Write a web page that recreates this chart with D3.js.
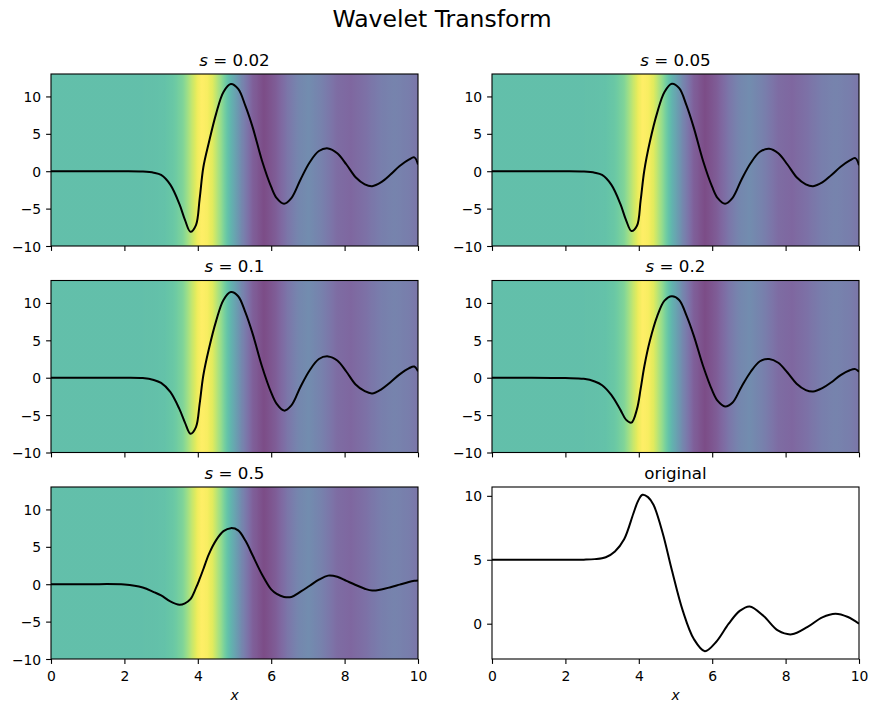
<!DOCTYPE html>
<html>
<head>
<meta charset="utf-8">
<script src="https://cdn.jsdelivr.net/npm/d3@7"></script>
<style>
  body { margin: 0; background: #fff; }
  svg { display: block; }
  text { font-family: 'DejaVu Sans', sans-serif; fill: #000; }
</style>
</head>
<body>
<svg id="chart" width="870" height="704"></svg>
<script>
// Values.
const scaleLabels = ['0.02', '0.05', '0.1', '0.2', '0.5'];

// sample positions shared by the five wavelet curves
const waveX = [0, 1, 2, 2.5, 2.8, 3, 3.25, 3.5, 3.65, 3.8, 3.95, 4.05, 4.15, 4.3, 4.5,
  4.7, 4.9, 5.1, 5.3, 5.5, 5.75, 6, 6.15, 6.35, 6.55, 6.8, 7.05, 7.3, 7.55, 7.8,
  8.05, 8.3, 8.55, 8.75, 9, 9.25, 9.5, 9.75, 9.9, 10];

const waveS002 = [0, 0, 0, -0.05, -0.2, -0.5, -1.8, -4.4, -6.5, -8.1, -7.2, -3.7, 0.5, 3.8, 7.7,
  10.6, 11.65, 11.0, 8.7, 5.8, 1.4, -2.1, -3.6, -4.35, -3.6, -1.1, 1.2, 2.7, 3.05, 2.4,
  0.9, -0.8, -1.75, -2.0, -1.45, -0.45, 0.7, 1.55, 1.85, 0.9];

const waveS005 = [0, 0, 0, -0.05, -0.2, -0.5, -1.8, -4.4, -6.5, -8.0, -7.3, -3.9, 0.1, 3.9, 7.8,
  10.6, 11.7, 11.1, 8.8, 5.8, 1.4, -2.1, -3.6, -4.35, -3.6, -1.1, 1.1, 2.6, 3.0, 2.4,
  0.9, -0.8, -1.75, -2.0, -1.5, -0.5, 0.6, 1.45, 1.75, 0.8];

const waveS01 = [0, 0, 0, -0.05, -0.3, -0.7, -1.9, -4.2, -6.0, -7.5, -6.6, -3.5, 0.3, 3.8, 7.6,
  10.4, 11.45, 10.9, 8.7, 5.8, 1.5, -2.0, -3.5, -4.4, -3.7, -1.2, 1.0, 2.5, 2.85, 2.3,
  0.8, -0.9, -1.8, -2.1, -1.55, -0.6, 0.45, 1.25, 1.5, 0.85];

const waveS02 = [0, 0, -0.05, -0.15, -0.5, -1.0, -2.3, -4.3, -5.6, -6.0, -4.2, -1.5, 1.5, 4.9, 8.2,
  10.3, 10.9, 10.4, 8.3, 5.6, 1.6, -1.7, -3.1, -3.85, -3.35, -1.2, 0.8, 2.2, 2.5, 2.0,
  0.7, -0.8, -1.65, -1.85, -1.4, -0.6, 0.35, 1.0, 1.15, 0.8];

const waveS05 = [0, 0, -0.05, -0.45, -1.05, -1.5, -2.3, -2.75, -2.55, -2.0, -0.5, 0.7, 2.0, 4.0, 5.9,
  7.1, 7.5, 7.2, 5.8, 3.8, 1.3, -0.7, -1.3, -1.7, -1.7, -1.0, -0.2, 0.6, 1.15, 1.0,
  0.45, -0.1, -0.6, -0.85, -0.7, -0.4, -0.05, 0.3, 0.45, 0.5];

// the original signal, also used to colour the panel backgrounds
const origX = [0, 1, 2, 2.5, 2.8, 3.1, 3.35, 3.6, 3.85, 3.98, 4.1, 4.25, 4.4, 4.65, 4.9,
  5.2, 5.5, 5.8, 6.1, 6.45, 6.75, 7.02, 7.4, 7.8, 8.17, 8.6, 9.0, 9.36, 9.7, 10];
const origY = [5, 5, 5, 5.01, 5.05, 5.2, 5.65, 6.6, 8.6, 9.6, 10.08, 9.9, 9.3, 7.1, 4.2,
  1.0, -1.2, -2.15, -1.45, 0.0, 1.0, 1.35, 0.6, -0.55, -0.83, -0.25, 0.5, 0.78, 0.52, 0.0];

const xTicks = [0, 2, 4, 6, 8, 10];
const waveYTicks = [-10, -5, 0, 5, 10];
const origYTicks = [0, 5, 10];
const waveYDomain = [-10, 13];

const waveSeries = [waveS002, waveS005, waveS01, waveS02, waveS05];

// Layout (pixels)
const colLeft = [51, 492];
const rowTop = [74, 280.5, 487];
const plotW = 367;
const plotH = 172;
const tickLen = 4.9;
const tickPad = 4.9;

const svg = d3.select('#chart');
svg.append('rect').attr('width', 870).attr('height', 704).attr('fill', 'white');

svg.append('text')
  .attr('x', 442).attr('y', 27)
  .attr('text-anchor', 'middle')
  .style('font-size', '23.5px')
  .text('Wavelet Transform');

const x = d3.scaleLinear().domain([0, 10]).range([0, plotW]);

// Background gradient: viridis of the original signal along x
const colour = d3.scaleSequential(d3.interpolateViridis).domain(d3.extent(origY));
const offset = x.copy().range([0, 1]);
const defs = svg.append('defs');
const grad = defs.append('linearGradient').attr('id', 'bg')
  .attr('x1', 0).attr('x2', 1).attr('y1', 0).attr('y2', 0);
const stops = [];
origX.forEach((xv, i) => {
  if (i === origX.length - 1) { stops.push([xv, origY[i]]); return; }
  // a few in-between stops so the colour follows viridis, not a straight RGB blend
  for (let k = 0; k < 6; k++) {
    const t = k / 6;
    stops.push([xv + t * (origX[i + 1] - xv), origY[i] + t * (origY[i + 1] - origY[i])]);
  }
});
grad.selectAll('stop').data(stops).join('stop')
  .attr('offset', d => offset(d[0]))
  .attr('stop-color', d => colour(d[1]));

defs.append('clipPath').attr('id', 'clip')
  .append('rect').attr('width', plotW).attr('height', plotH);

function drawPanel(col, row, xs, ys, opts) {
  const g = svg.append('g').attr('transform', `translate(${colLeft[col]},${rowTop[row]})`);
  const y = d3.scaleLinear().domain(opts.yDomain).range([plotH, 0]);

  if (opts.background) {
    g.append('rect')
      .attr('width', plotW).attr('height', plotH)
      .attr('fill', 'url(#bg)').attr('fill-opacity', 0.7);
  }

  const line = d3.line()
    .x((d, i) => x(xs[i]))
    .y(d => y(d))
    .curve(d3.curveCatmullRom.alpha(0.5));

  g.append('path')
    .datum(ys)
    .attr('clip-path', 'url(#clip)')
    .attr('fill', 'none')
    .attr('stroke', '#000')
    .attr('stroke-width', 2)
    .attr('stroke-linejoin', 'round')
    .attr('d', line);

  // axes
  const xAxis = d3.axisBottom(x).tickValues(xTicks)
    .tickSize(tickLen).tickPadding(tickPad).tickSizeOuter(0)
    .tickFormat(opts.xLabels ? d3.format('d') : '');
  const yAxis = d3.axisLeft(y).tickValues(opts.yTicks)
    .tickSize(tickLen).tickPadding(tickPad).tickSizeOuter(0);

  const gx = g.append('g').attr('transform', `translate(0,${plotH})`).call(xAxis);
  const gy = g.append('g').call(yAxis);
  [gx, gy].forEach(a => {
    a.attr('font-family', null).attr('font-size', null);
    a.select('.domain').remove();
    a.selectAll('line').attr('stroke', '#000').attr('stroke-width', 1.1);
    a.selectAll('text').style('font-size', '13.9px').attr('fill', '#000');
  });
  gx.selectAll('text').attr('dy', '0.86em');
  gy.selectAll('text').attr('dy', '0.36em');

  // frame
  g.append('rect')
    .attr('width', plotW).attr('height', plotH)
    .attr('fill', 'none').attr('stroke', '#000').attr('stroke-width', 1.1);

  // title
  const t = g.append('text')
    .attr('x', plotW / 2).attr('y', -8.3)
    .attr('text-anchor', 'middle')
    .style('font-size', '16.7px');
  if (opts.scale) {
    t.append('tspan').style('font-style', 'italic').text('s');
    t.append('tspan').text(' = ' + opts.scale);
  } else {
    t.text(opts.title);
  }

  if (opts.xLabels) {
    g.append('text')
      .attr('x', plotW / 2).attr('y', plotH + 41)
      .attr('text-anchor', 'middle')
      .style('font-size', '13.9px').style('font-style', 'italic')
      .text('x');
  }
}

waveSeries.forEach((ys, i) => {
  drawPanel(i % 2, Math.floor(i / 2), waveX, ys, {
    yDomain: waveYDomain,
    yTicks: waveYTicks,
    background: true,
    scale: scaleLabels[i],
    xLabels: i === 4
  });
});

// original panel: autoscaled with a 5% margin like matplotlib
const ext = d3.extent(origY);
const pad = (ext[1] - ext[0]) * 0.05;
drawPanel(1, 2, origX, origY, {
  yDomain: [ext[0] - pad, ext[1] + pad],
  yTicks: origYTicks,
  background: false,
  title: 'original',
  xLabels: true
});
</script>
</body>
</html>
